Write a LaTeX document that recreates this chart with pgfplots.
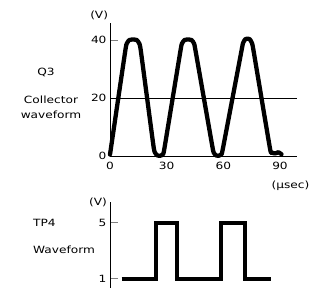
\documentclass[border=0pt]{standalone}
\usepackage{fontspec}
\setmainfont{DejaVu Sans}[FakeStretch=1.22]
\usepackage{pgfplots}
\pgfplotsset{compat=1.18}
\begin{document}
\fontsize{10}{12}\selectfont
\begin{tikzpicture}
\path[use as bounding box] (0,0) rectangle (311bp,288bp);
% Top: Q3 collector waveform
\begin{axis}[
  at={(110bp,132bp)}, anchor=south west,
  scale only axis, width=187bp, height=133bp,
  xmin=0, xmax=99, ymin=0, ymax=46,
  axis x line=bottom, axis y line=left,
  axis line style={-, line width=1pt},
  xtick={0,30,60,90}, xtick style={draw=none},
  xticklabel style={yshift=-3bp},
  ytick={0,20,40}, tick align=inside, major tick length=8bp,
  ytick style={line width=1pt},
  /pgf/number format/assume math mode=true,
  xlabel={(µsec)}, xlabel style={at={(axis description cs:0.965,-0.22)}, anchor=center},
  ylabel={(V)}, ylabel style={rotate=-90, at={(axis description cs:-0.058,1.06)}, anchor=center},
  clip=false,
]
\addplot[black, line width=0.8pt] coordinates {(0,20) (99,20)};
\addplot[black, line width=4.3pt, smooth, tension=0.3, line join=round, line cap=round] coordinates {
  (0,0.5) (8.0,36) (8.9,38.9) (10.2,40.1) (12.2,40.3) (14.2,40.1) (15.5,38.9) (16.4,36)
  (22.9,4) (23.8,1.2) (25.0,0.2) (26.6,0.1) (28.0,0.6) (28.9,3)
  (37.2,36) (38.1,38.9) (39.4,40.1) (41.3,40.3) (43.2,40.1) (44.5,38.9) (45.4,36)
  (54.0,4) (54.9,1.2) (56.1,0.2) (57.7,0.1) (59.0,0.6) (59.9,3)
  (69.5,36) (70.4,39.0) (71.6,40.4) (72.8,40.6) (74.0,40.4) (75.2,39.0) (76.1,36)
  (84.6,3) (85.6,1.2) (87.5,0.9) (89.2,1.3) (90.8,0.6)
};
\end{axis}
% Bottom: TP4 waveform
\begin{axis}[
  at={(110bp,0bp)}, anchor=south west,
  scale only axis, width=187bp, height=86bp,
  xmin=0, xmax=99, ymin=0.36, ymax=6.46,
  axis x line=none, axis y line=left,
  axis line style={-, line width=1pt},
  xtick=\empty,
  ytick={1,5}, tick align=inside, major tick length=8bp,
  ytick style={line width=1pt},
  /pgf/number format/assume math mode=true,
  ylabel={(V)}, ylabel style={rotate=-90, at={(axis description cs:-0.064,1.0)}, anchor=center},
  clip=false,
]
\addplot[black, line width=4pt, line join=miter, line cap=butt] coordinates {
  (6.2,1) (24.2,1) (24.2,5) (35.7,5) (35.7,1) (59.0,1) (59.0,5) (71.4,5) (71.4,1) (85.5,1)
};
\end{axis}
\node at (46bp,216bp) {Q3};
\node at (51bp,188bp) {Collector};
\node at (51bp,173bp) {waveform};
\node[anchor=west, inner sep=0pt] at (33bp,65bp) {TP4};
\node[anchor=west, inner sep=0pt] at (33bp,38bp) {Waveform};
\end{tikzpicture}
\end{document}
